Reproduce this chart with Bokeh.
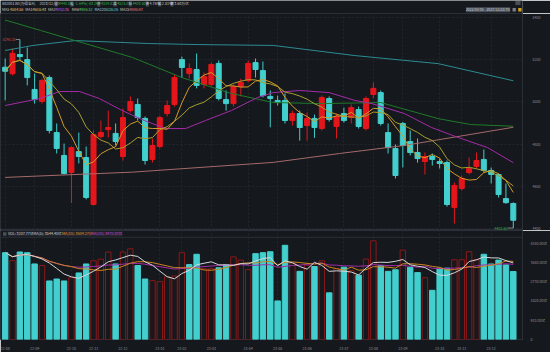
import numpy as np
import pandas as pd
from bokeh.plotting import figure
from bokeh.layouts import column
from bokeh.models import Range1d, LinearAxis, FixedTicker, Grid, ColumnDataSource, Span
from bokeh.core.properties import value
from bokeh.embed import file_html
from bokeh.resources import INLINE

# ---------------- data (weekly candles, 881001.WI) ----------------
dates = [
    "2022-08-05", "2022-08-12", "2022-08-19", "2022-08-26", "2022-09-02", "2022-09-09", "2022-09-16",
    "2022-09-23", "2022-09-30", "2022-10-14", "2022-10-21", "2022-10-28", "2022-11-04", "2022-11-11",
    "2022-11-18", "2022-11-25", "2022-12-02", "2022-12-09", "2022-12-16", "2022-12-23", "2022-12-30",
    "2023-01-06", "2023-01-13", "2023-01-20", "2023-02-03", "2023-02-10", "2023-02-17", "2023-02-24",
    "2023-03-03", "2023-03-10", "2023-03-17", "2023-03-24", "2023-03-31", "2023-04-07", "2023-04-14",
    "2023-04-21", "2023-04-28", "2023-05-05", "2023-05-12", "2023-05-19", "2023-05-26", "2023-06-02",
    "2023-06-09", "2023-06-16", "2023-06-21", "2023-06-30", "2023-07-07", "2023-07-14", "2023-07-21",
    "2023-07-28", "2023-08-04", "2023-08-11", "2023-08-18", "2023-08-25", "2023-09-01", "2023-09-08",
    "2023-09-15", "2023-09-22", "2023-09-28", "2023-10-13", "2023-10-20", "2023-10-27", "2023-11-03",
    "2023-11-10", "2023-11-17", "2023-11-24", "2023-12-01", "2023-12-08", "2023-12-15", "2023-12-22",
]
opens = [5164, 5133, 5224, 5200, 5059, 5002, 5115, 4855, 4747, 4666,
         4765, 4737, 4515, 4836, 4869, 4851, 4742, 4959, 4988, 4922,
         4728, 4789, 4945, 4988, 5200, 5134, 5153, 5082, 5082, 5182,
         5011, 4992, 5073, 5101, 5186, 5148, 5026, 5007, 5007, 4912,
         4945, 4888, 4922, 4874, 5016, 4884, 4945, 4926, 4964, 4874,
         5035, 5044, 4855, 4780, 4898, 4813, 4761, 4718, 4742, 4718,
         4713, 4501, 4591, 4666, 4695, 4728, 4676, 4657, 4543, 4519.82]
highs = [5205, 5252, 5295.35, 5257, 5134, 5110, 5125, 4898, 4803, 4790,
         4855, 4789, 4865, 4912, 4959, 4898, 4969, 5026, 5016, 4931,
         4827, 4935, 5007, 5130, 5214, 5182, 5229, 5139, 5186, 5196,
         5054, 5082, 5110, 5196, 5205, 5191, 5054, 5030, 5040, 4959,
         4959, 4950, 4940, 5030, 5026, 4945, 4973, 4988, 4978, 5026,
         5092, 5054, 4898, 4799, 4905, 4865, 4827, 4761, 4756, 4732,
         4723, 4619, 4652, 4737, 4761, 4775, 4690, 4661, 4614, 4525.01]
lows = [5007, 5125, 5195, 5078, 4992, 4992, 4851, 4756, 4657, 4522,
        4709, 4539, 4510, 4827, 4832, 4794, 4723, 4950, 4912, 4704,
        4713, 4780, 4931, 4978, 5115, 5110, 5064, 5064, 5073, 5007,
        4959, 4978, 5026, 5092, 5115, 5021, 4880, 4983, 4898, 4888,
        4817, 4817, 4830, 4865, 4907, 4827, 4902, 4898, 4874, 4865,
        5016, 4888, 4756, 4638, 4690, 4747, 4713, 4657, 4699, 4685,
        4505, 4425, 4580, 4657, 4685, 4666, 4614, 4548, 4518, 4403.60]
closes = [5145, 5230, 5214, 5115, 5011, 5101, 4865, 4780, 4661, 4784,
          4742, 4548, 4846, 4855, 4879, 4813, 4926, 5002, 4926, 4723,
          4794, 4926, 4983, 5115, 5163, 5158, 5078, 5120, 5177, 5016,
          4992, 5073, 5092, 5182, 5153, 5030, 5016, 4997, 4912, 4945,
          4879, 4922, 4879, 5021, 4917, 4931, 4912, 4973, 4884, 5016,
          5064, 4898, 4784, 4652, 4794, 4761, 4732, 4742, 4728, 4709,
          4515, 4605, 4638, 4685, 4723, 4676, 4657, 4562, 4523.82, 4440.53]
volumes = [4095, 3717, 4127, 4095, 3563, 3490, 2762, 2853, 2762, 2912,
           3140, 3563, 3715, 3790, 4127, 3563, 4127, 4277, 3490, 2853,
           2776, 2730, 2957, 3000, 4095, 3533, 4020, 3336, 3336, 3382,
           3519, 3898, 3746, 3291, 4050, 4095, 4140, 1820, 4443, 3600,
           3215, 3500, 3443, 3715, 2200, 3336, 3412, 3250, 3033, 3792,
           4655, 3488, 3215, 3290, 4216, 3412, 3155, 2912, 2320, 3367,
           3367, 3762, 3762, 4140, 3762, 4020, 3563, 3746, 3519, 3207.77]

# moving averages (candle index, value)
ma20_idx = [0, 4.75, 7.4, 10.1, 12.8, 15.9, 18.9, 21.8, 24.5, 27.2, 30.7, 34.3, 36.4,
            40, 44, 47.5, 49.8, 54.2, 57.9, 61.5, 65.5, 69]
ma20_val = [4983, 5016, 5049, 5049, 5016, 4959, 4912, 4874, 4874, 4912, 4959, 5021, 5044,
            5054, 5044, 5007, 4992, 4945, 4879, 4832, 4784, 4712.76]
ma60_idx = [0, 4.8, 17.3, 24, 30.7, 36.4, 43, 51, 58.8, 63.2, 69]
ma60_val = [5387, 5338, 5210, 5115, 5040, 4997, 4992, 4997, 4921, 4893, 4885]
ma120_idx = [0, 3.8, 9.5, 19.5, 26.3, 36.4, 47.5, 58.8, 69]
ma120_val = [5243, 5267, 5290, 5276, 5271, 5267, 5219, 5181, 5100]
ma250_idx = [0, 17.3, 36.4, 45.4, 54.2, 69]
ma250_val = [4643, 4668, 4714, 4756, 4794, 4880]

price_ticks = [4400, 4600, 4800, 5000, 5200, 5400]
vol_ticks = [0, 910, 1820, 2730, 3640, 4550]

header_name = "881001.WI(万得全A)"
header_date = "2023/12/22"
header_items = [("收", "4440.53"), ("幅", "-1.64%(-83.29)"), ("开", "4519.82"), ("高", "4525.01"),
                ("低", "4403.60"), ("换", "4.76%"), ("振", "2.81%"), ("额", "3.60万亿")]
ma_names = ["MA5", "MA10", "MA20", "MA60", "MA120", "MA250"]
ma_texts = ["4584.56", "4616.43", "4712.76", "4906.12", "5126.26", "4895.97"]
vol_texts = ["VOL: 3207.77亿", "MA(5): 3544.40亿", "MA(10): 3604.27亿", "MA(20): 3472.87亿"]
range_text = "2022/08/05 - 2023/12/22(70)"

# ---------------- style ----------------
BG = "#15181d"
UP = "#e5161b"
DN = "#42cfce"
VUP = "#8c1818"
AX = "#2b2f37"
GRID = "#22262d"
LBL = "#8d929a"
TXT = "#c6cad0"
GREEN = "#2fb64c"
FONT = "Noto Sans CJK SC"
FS = "3.7px"
MA_COL = ["#d39b2a", "#a89f30", "#a42ca8", "#1f7a2a", "#2b8c92", "#a46a6a"]
MA_TXT = ["#e8a33a", "#cdbf45", "#d043dd", "#3cc040", "#40c6c6", "#e05858"]

n = len(closes)
idx = np.arange(n)
o = np.array(opens, float)
h = np.array(highs, float)
l = np.array(lows, float)
c = np.array(closes, float)
v = np.array(volumes, float)

ma5 = pd.Series(c).rolling(5, min_periods=1).mean().values
ma10 = pd.Series(c).rolling(10, min_periods=1).mean().values
prev = np.r_[o[0], c[:-1]]
vup = c >= prev
vm5 = pd.Series(v).rolling(5, min_periods=1).mean().values
vm10 = pd.Series(v).rolling(10, min_periods=1).mean().values
vm20 = pd.Series(v).rolling(20, min_periods=1).mean().values

d = pd.to_datetime(dates)
first = [i for i in range(n) if i == 0 or d[i].month != d[i - 1].month]
month_labels = {i: d[i].strftime("%y-%m") for i in first}

XR = Range1d(-0.632, 70.25)


def blank(fig):
    fig.xgrid.visible = False
    fig.ygrid.visible = False


# ---------------- header strip ----------------
hdr = figure(width=550, height=13, x_range=Range1d(0, 550), y_range=Range1d(13, 0),
             output_backend="svg", toolbar_location=None, x_axis_location=None,
             y_axis_location=None, min_border=0, outline_line_color=None,
             background_fill_color=BG, border_fill_color=BG)
blank(hdr)
r1 = 3.4
r2 = 9.3
hdr.text(x=[1.5, 41], y=[r1, r1], text=[header_name, header_date], text_color=TXT,
         text_font=value(FONT), text_font_size=FS, text_baseline="middle")
ix = [57, 73.5, 102, 119, 135, 153, 166, 179]
vx = [61.5, 78, 106, 123, 139, 157, 170, 183]
vc = [GREEN, GREEN, GREEN, GREEN, GREEN, TXT, TXT, TXT]
hdr.text(x=ix, y=[r1] * 8, text=[a for a, _ in header_items], text_color="#d8dbe0",
         text_font=value(FONT), text_font_size="3.2px", text_baseline="middle",
         background_fill_color="#3d414a", padding=0)
hdr.text(x=vx, y=[r1] * 8, text=[b for _, b in header_items], text_color=vc,
         text_font=value(FONT), text_font_size=FS, text_baseline="middle")
nx = [1.5, 26, 50, 75, 99, 126]
mx = [10, 34, 58, 83, 110, 136]
hdr.text(x=nx, y=[r2] * 6, text=ma_names, text_color=TXT, text_font=value(FONT),
         text_font_size=FS, text_baseline="middle")
hdr.text(x=mx, y=[r2] * 6, text=ma_texts, text_color=MA_TXT, text_font=value(FONT),
         text_font_size=FS, text_baseline="middle", background_fill_color="#262a31", padding=0)
hdr.text(x=[537], y=[r2], text=[range_text], text_color="#cfd2d6", text_font=value(FONT),
         text_font_size="3.4px", text_baseline="middle", text_align="right",
         background_fill_color="#4a4e56", padding=0)
hdr.quad(left=[539.5, 545.5, 542.5], right=[543, 549, 548], top=[7.5, 7.5, 0.5], bottom=[11, 11, 4.5],
         fill_color=["#7a7e86", "#d6a21c", "#4a4e56"], line_color=None)

# ---------------- price panel ----------------
p = figure(width=550, height=217, x_range=XR, y_range=Range1d(4392, 5418),
           output_backend="svg", toolbar_location=None, x_axis_location=None,
           y_axis_location=None, min_border=0, min_border_right=23,
           background_fill_color=BG, border_fill_color=BG, outline_line_color=AX)
blank(p)
p.add_layout(Grid(dimension=0, ticker=FixedTicker(ticks=first), grid_line_color=GRID,
                  grid_line_dash="2 2"))
p.add_layout(Grid(dimension=1, ticker=FixedTicker(ticks=price_ticks), grid_line_color=GRID,
                  grid_line_dash="2 2"))
ya = LinearAxis(ticker=FixedTicker(ticks=price_ticks), major_label_text_font_size="3.6px",
                major_label_text_color=LBL, major_label_text_font=FONT, axis_line_color=AX,
                major_tick_line_color=None, minor_tick_line_color=None, major_label_standoff=4)
p.add_layout(ya, "right")

col = np.where(c >= o, UP, DN)
src = ColumnDataSource(dict(x=idx, h=h, l=l, top=np.maximum(o, c), bot=np.minimum(o, c), col=col))
p.segment(x0="x", y0="l", x1="x", y1="h", line_color="col", line_width=1, source=src)
p.vbar(x="x", width=0.68, top="top", bottom="bot", fill_color="col", line_color="col", source=src)

p.line(ma250_idx, ma250_val, line_color=MA_COL[5], line_width=1)
p.line(ma120_idx, ma120_val, line_color=MA_COL[4], line_width=1)
p.line(ma60_idx, ma60_val, line_color=MA_COL[3], line_width=1)
p.line(ma20_idx, ma20_val, line_color=MA_COL[2], line_width=1)
p.line(idx, ma10, line_color=MA_COL[1], line_width=1)
p.line(idx, ma5, line_color=MA_COL[0], line_width=1)

imax = int(np.argmax(h))
imin = int(np.argmin(l))
p.segment(x0=[imax - 0.55, imin - 0.75], y0=[h[imax], l[imin]], x1=[imax, imin], y1=[h[imax], l[imin]],
          line_color="#9a9ea6", line_width=0.8)
p.text(x=[imax - 0.6], y=[h[imax]], text=[f"{h[imax]:.2f}"], text_color="#d04848",
       text_font=value(FONT), text_font_size="3.6px", text_baseline="middle", text_align="right")
p.text(x=[imin - 0.8], y=[l[imin]], text=[f"{l[imin]:.2f}"], text_color=GREEN,
       text_font=value(FONT), text_font_size="3.6px", text_baseline="middle", text_align="right")

# ---------------- volume panel (with its header line on top) ----------------
VPX = 0.02198          # pixels per 亿 in the volume panel
VTOP = 113 / VPX       # frame is 113 px tall: header strip + bars
VSEP = 106 / VPX       # separator under the header strip
VHDR = 109.4 / VPX     # header text line
pv = figure(width=550, height=122, x_range=XR, y_range=Range1d(0, VTOP),
            output_backend="svg", toolbar_location=None, x_axis_location=None,
            y_axis_location=None, min_border=0, min_border_right=23, min_border_bottom=9,
            background_fill_color=BG, border_fill_color=BG, outline_line_color=AX)
blank(pv)
pv.add_layout(Grid(dimension=0, ticker=FixedTicker(ticks=first), grid_line_color=GRID,
                   grid_line_dash="2 2", bounds=(0, VSEP)))
pv.add_layout(Span(location=VSEP, dimension="width", line_color=AX, line_width=1))
va = LinearAxis(ticker=FixedTicker(ticks=vol_ticks),
                major_label_overrides={t: ("0" if t == 0 else f"{t:.2f}亿") for t in vol_ticks},
                major_label_text_font_size="3.6px", major_label_text_color=LBL,
                major_label_text_font=FONT, axis_line_color=AX, major_tick_line_color=None,
                minor_tick_line_color=None, major_label_standoff=2)
pv.add_layout(va, "right")
xa = LinearAxis(ticker=FixedTicker(ticks=first), major_label_overrides=month_labels,
                major_label_text_font_size="3.6px", major_label_text_color=LBL,
                major_label_text_font=FONT, axis_line_color=None, major_tick_line_color=None,
                minor_tick_line_color=None, major_label_standoff=1, major_label_text_align="left")
pv.add_layout(xa, "below")

vsrc = ColumnDataSource(dict(x=idx, v=v, fill=np.where(vup, BG, DN), line=np.where(vup, VUP, DN)))
pv.vbar(x="x", width=0.74, top="v", bottom=0, fill_color="fill", line_color="line", source=vsrc)
pv.line(idx, vm20, line_color="#a42ca8", line_width=1)
pv.line(idx, vm10, line_color="#c9841f", line_width=1)
pv.line(idx, vm5, line_color="#d5d7db", line_width=1)

# header line of the volume panel (x given in candle units from pixel offsets)
def px2i(px):
    return (px - 4.7) / 7.435

pv.rect(x=[px2i(4.3)], y=[VHDR], width=3.5 / 7.435, height=3.5 / VPX, fill_color="#4a4e56", line_color=None)
pv.text(x=[px2i(t) for t in (7.5, 33, 62, 92)], y=[VHDR] * 4, text=vol_texts,
        text_color=[TXT, TXT, "#e0902a", "#d043d6"], text_font=value(FONT),
        text_font_size=FS, text_baseline="middle", background_fill_color="#23262c", padding=0)

layout = column(hdr, p, pv, spacing=0)
html = file_html(layout, INLINE, title="881001.WI")
with open("out.html", "w") as f:
    f.write(html)
